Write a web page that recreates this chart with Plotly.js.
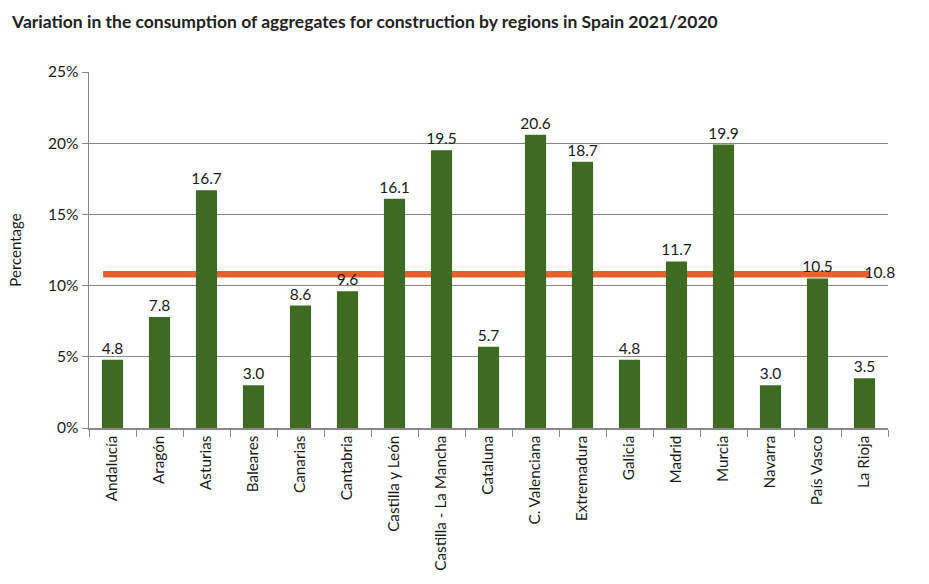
<!DOCTYPE html>
<html><head><meta charset="utf-8">
<script src="https://cdn.plot.ly/plotly-3.0.1.min.js"></script>
<style>body{margin:0;background:#fff}#c{width:929px;height:584px}</style>
</head><body><div id="c"></div>
<script>
const regions = ["Andalucía","Aragón","Asturias","Baleares","Canarias","Cantabria","Castilla y León","Castilla - La Mancha","Cataluna","C. Valenciana","Extremadura","Galicia","Madrid","Murcia","Navarra","País Vasco","La Rioja"];
const variation = [4.8,7.8,16.7,3.0,8.6,9.6,16.1,19.5,5.7,20.6,18.7,4.8,11.7,19.9,3.0,10.5,3.5];
const spainAverage = 10.8;
const yTicks = [0,5,10,15,20,25];

const FONT = 'Lato, "Open Sans", sans-serif';
const data = [
  {type:'bar', x:regions, y:variation, marker:{color:'#3e6b21'},
   text:variation.map(v=>v.toFixed(1)), textposition:'outside', cliponaxis:false, constraintext:'none',
   textfont:{family:FONT,size:15.5,color:'#1a1a1a'}, hoverinfo:'skip'},
  {type:'scatter', mode:'text', x:[regions[regions.length-1]], y:[spainAverage],
   text:[spainAverage.toFixed(1)], textposition:'middle right', cliponaxis:false,
   textfont:{family:FONT,size:15.5,color:'#1a1a1a'}, hoverinfo:'skip'}
];
const layout = {
  width:929, height:584, showlegend:false, bargap:0.55,
  margin:{l:89, r:41, t:72, b:156},
  paper_bgcolor:'#fff', plot_bgcolor:'#fff',
  font:{family:FONT, color:'#1a1a1a', size:15},
  title:{text:'<b>Variation in the consumption of aggregates for construction by regions in Spain 2021/2020</b>',
    x:0.013, xanchor:'left', y:0.962, yanchor:'middle', font:{family:FONT,size:17.5,color:'#222'}},
  shapes:[{type:'line', layer:'below', xref:'x', yref:'y',
    x0:regions[0], x1:regions[regions.length-1], x0shift:-0.2, x1shift:0.1,
    y0:spainAverage, y1:spainAverage, line:{color:'#e8612c', width:6.5}}],
  xaxis:{type:'category', tickangle:-90, ticks:'outside', tickson:'boundaries', ticklen:7, tickcolor:'#888',
    showline:true, linecolor:'#888', linewidth:1.5, showgrid:false, tickfont:{family:FONT,size:15.3,color:'#1a1a1a'},
    range:[-0.5, regions.length-0.5]},
  yaxis:{range:[0,25], tickvals:yTicks, ticktext:yTicks.map(v=>v+'%'), ticks:'outside', ticklen:6, tickcolor:'#888',
    showline:true, linecolor:'#888', linewidth:1.5, showgrid:true, gridcolor:'#888', gridwidth:1, zeroline:false,
    tickfont:{family:FONT,size:15.5,color:'#1a1a1a'},
    title:{text:'Percentage', font:{family:FONT,size:15,color:'#1a1a1a'}, standoff:22}}
};
Plotly.newPlot('c', data, layout, {displayModeBar:false, staticPlot:true});
</script></body></html>
